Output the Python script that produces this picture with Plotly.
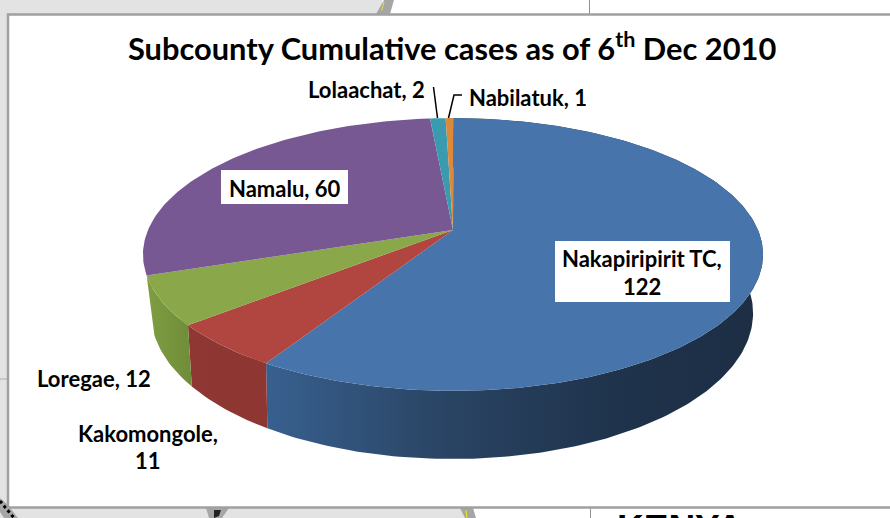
import numpy as np
import plotly.graph_objects as go

categories = ["Nakapiripirit TC", "Kakomongole", "Loregae", "Namalu", "Lolaachat", "Nabilatuk"]
values = [122, 11, 12, 60, 2, 1]
top_colors = ["#4674AB", "#B0463F", "#8AA74A", "#775893", "#3A9AB0", "#DB8A3C"]
wall_scales = [
    [[0, "#38608F"], [0.35, "#2A4565"], [0.7, "#1F334C"], [1, "#1D2E44"]],
    [[0, "#8E3833"], [1, "#8E3631"]],
    [[0, "#7F9E42"], [1, "#6F8C38"]],
]

# Projection of the tilted pie disc onto the page
CX, CY, AX, BY, K = 453, 230, 305, 132, 0.1795
BX0, BY0, BAX, BBY, BK = 452, 284, 295, 140, 0.2


def rim(theta, x0, y0, a, b, k):
    u, v = np.sin(theta), np.cos(theta)
    w = 1 + k * v
    return x0 + a * u / w, y0 - b * v / w


fig = go.Figure()
edges = np.cumsum([0] + values) / sum(values) * 2 * np.pi + np.radians(0.1)

for i in range(len(wall_scales)):
    t = np.linspace(edges[i], edges[i + 1], max(4, int((edges[i + 1] - edges[i]) * 60)))
    xt, yt = rim(t, CX, CY, AX, BY, K)
    xb, yb = rim(t, BX0, BY0, BAX, BBY, BK)
    fig.add_trace(go.Scatter(
        x=np.r_[xt, xb[::-1], xt[0]], y=np.r_[yt, yb[::-1], yt[0]],
        mode="lines", line=dict(width=0), fill="toself",
        fillgradient=dict(type="horizontal", colorscale=wall_scales[i],
                          start=float(min(xt.min(), xb.min())) if i else 265,
                          stop=float(max(xt.max(), xb.max())) if i else 760),
        hoverinfo="skip", showlegend=False))

for i in range(len(values)):
    t = np.linspace(edges[i], edges[i + 1], max(4, int((edges[i + 1] - edges[i]) * 60)))
    xt, yt = rim(t, CX, CY, AX, BY, K)
    fig.add_trace(go.Scatter(
        x=np.r_[CX, xt, CX], y=np.r_[CY, yt, CY], name=categories[i],
        mode="lines", line=dict(width=0), fill="toself", fillcolor=top_colors[i],
        hoverinfo="name", showlegend=False))

# Leader lines
fig.add_trace(go.Scatter(x=[433.5, 437.5], y=[87, 118], mode="lines",
                         line=dict(color="black", width=1.5), hoverinfo="skip", showlegend=False))
fig.add_trace(go.Scatter(x=[448.5, 454, 462], y=[118, 95, 95], mode="lines",
                         line=dict(color="black", width=1.5), hoverinfo="skip", showlegend=False))

GRAY = "#E3E3E3"
shapes = [
    dict(type="rect", x0=0, x1=890, y0=0, y1=518, fillcolor="white", line_width=0, layer="below"),
    dict(type="rect", x0=0, x1=382, y0=0, y1=14, fillcolor=GRAY, line_width=0, layer="below"),
    dict(type="rect", x0=0, x1=8, y0=0, y1=518, fillcolor=GRAY, line_width=0, layer="below"),
    dict(type="rect", x0=0, x1=466, y0=508, y1=518, fillcolor=GRAY, line_width=0, layer="below"),
    dict(type="path", path="M376,14 L384,0 L394,0 L390,14 Z", fillcolor="#A6A6A6", line_width=0, layer="below"),
    dict(type="line", x0=384, x1=381, y0=2, y1=13, line=dict(color="#E8E040", width=1, dash="dash"), layer="below"),
    dict(type="path", path="M460,508 L473,508 L476,518 L465,518 Z", fillcolor="#A6A6A6", line_width=0, layer="below"),
    dict(type="line", x0=466, x1=467, y0=510, y1=518, line=dict(color="#F0F000", width=1), layer="below"),
    dict(type="path", path="M206,508 L229,508 L222,518 L209,518 Z", fillcolor="#A6A6A6", line_width=0, layer="below"),
    dict(type="path", path="M214,510 L221,510 L219,516 L214,518 Z", fillcolor="#222222", line_width=0, layer="below"),
    dict(type="path", path="M0,498 L8,505 L18,518 L4,518 L0,512 Z", fillcolor="#A6A6A6", line_width=0, layer="below"),
    dict(type="line", x0=0, x1=14, y0=501, y1=518, line=dict(color="black", width=3, dash="dot"), layer="below"),
    dict(type="line", x0=589.5, x1=589.5, y0=0, y1=14, line=dict(color="#909090", width=1), layer="below"),
    dict(type="line", x0=590.5, x1=590.5, y0=508, y1=518, line=dict(color="#909090", width=1), layer="below"),
    dict(type="line", x0=0, x1=8, y0=379, y1=379, line=dict(color="#B0B0B0", width=1), layer="below"),
    dict(type="rect", x0=8, x1=895, y0=14.5, y1=507.5, fillcolor="white",
         line=dict(color="#A0A0A0", width=2.5), layer="below"),
    dict(type="rect", x0=221, x1=348, y0=170, y1=204, fillcolor="white", line_width=0, layer="above"),
    dict(type="rect", x0=555, x1=730, y0=241, y1=302, fillcolor="white", line_width=0, layer="above"),
]

FONT = "Lato"
LABEL = dict(family=FONT, size=22, color="black", weight="bold")


def note(x, y, text, font=LABEL):
    fig.add_annotation(x=x, y=y, text=text, showarrow=False, xanchor="center", yanchor="middle",
                       font=font, xref="x", yref="y")


note(452, 46, "Subcounty Cumulative cases as of 6<sup>th</sup> Dec 2010",
     dict(family=FONT, size=30.8, color="black", weight="bold"))
note(366, 89, f"{categories[4]}, {values[4]}")
note(528, 97, f"{categories[5]}, {values[5]}")
note(285, 188, f"{categories[3]}, {values[3]}")
note(642, 258, f"{categories[0]},")
note(642, 286, f"{values[0]}")
note(94, 378, f"{categories[2]}, {values[2]}")
note(148, 433, f"{categories[1]},")
note(148, 460, f"{values[1]}")
fig.add_annotation(x=680 / 890, y=-0.021, text="KENYA", showarrow=False, xanchor="center", yanchor="middle",
                   font=dict(family="Liberation Sans", size=37, color="black", weight="bold"),
                   xref="paper", yref="paper")

fig.update_layout(
    width=890, height=518, margin=dict(l=0, r=0, t=0, b=0),
    paper_bgcolor="white", plot_bgcolor="white", shapes=shapes,
    xaxis=dict(range=[0, 890], visible=False, fixedrange=True),
    yaxis=dict(range=[518, 0], visible=False, fixedrange=True),
    showlegend=False,
)
fig.write_html("out.html", config={"displayModeBar": False},
               post_script="document.body.style.margin='0';document.body.style.overflow='hidden';")
